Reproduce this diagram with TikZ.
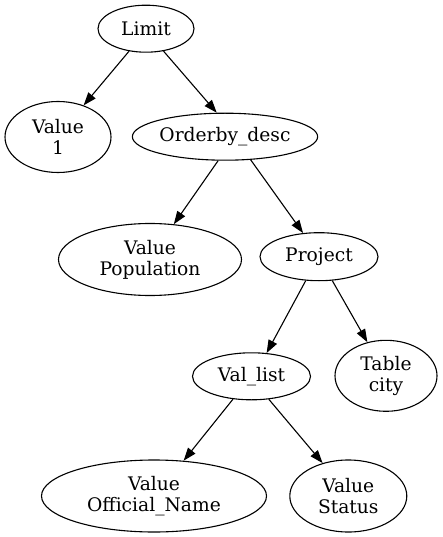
\documentclass[tikz,border=0pt]{standalone}
\usepackage{fontspec}
\setmainfont{DejaVu Serif}
\usetikzlibrary{shapes.geometric,arrows.meta}
\begin{document}
\begin{tikzpicture}[x=1pt,y=-1pt,
  nd/.style={draw,ellipse,inner sep=0pt,line width=1.1pt,font=\fontsize{18.67}{21}\selectfont,align=center},
  arr/.style={-{Triangle[length=13pt,width=9.3pt]},line width=1.1pt}]
\useasboundingbox (0,0) rectangle (443,537);
\node[nd,minimum width=96pt,minimum height=47pt] (limit) at (146,28.7) {Limit};
\node[nd,minimum width=106pt,minimum height=71pt] (v1) at (58,137) {Value\\1};
\node[nd,minimum width=180pt,minimum height=47pt] (ord) at (225,136.7) {Orderby\_desc};
\node[nd,minimum width=183pt,minimum height=72pt] (pop) at (150,259.5) {Value\\Population};
\node[nd,minimum width=118pt,minimum height=48pt] (proj) at (319,256.7) {Project};
\node[nd,minimum width=118pt,minimum height=47pt] (vl) at (251.5,376.3) {Val\_list};
\node[nd,minimum width=102pt,minimum height=71pt] (tab) at (386,375.8) {Table\\city};
\node[nd,minimum width=225pt,minimum height=72pt] (off) at (154,496) {Value\\Official\_Name};
\node[nd,minimum width=117pt,minimum height=72pt] (st) at (348.3,496) {Value\\Status};
\draw[arr] (limit.-127.8) -- (v1.51.7);
\draw[arr] (limit.-52.2) -- (ord.109.5);
\draw[arr] (ord.-106) -- (pop.56.5);
\draw[arr] (ord.-42) -- (proj.124);
\draw[arr] (proj.-119) -- (vl.57.4);
\draw[arr] (proj.-61) -- (tab.119.5);
\draw[arr] (vl.-129) -- (off.50.6);
\draw[arr] (vl.-53) -- (st.128.5);
\end{tikzpicture}
\end{document}
